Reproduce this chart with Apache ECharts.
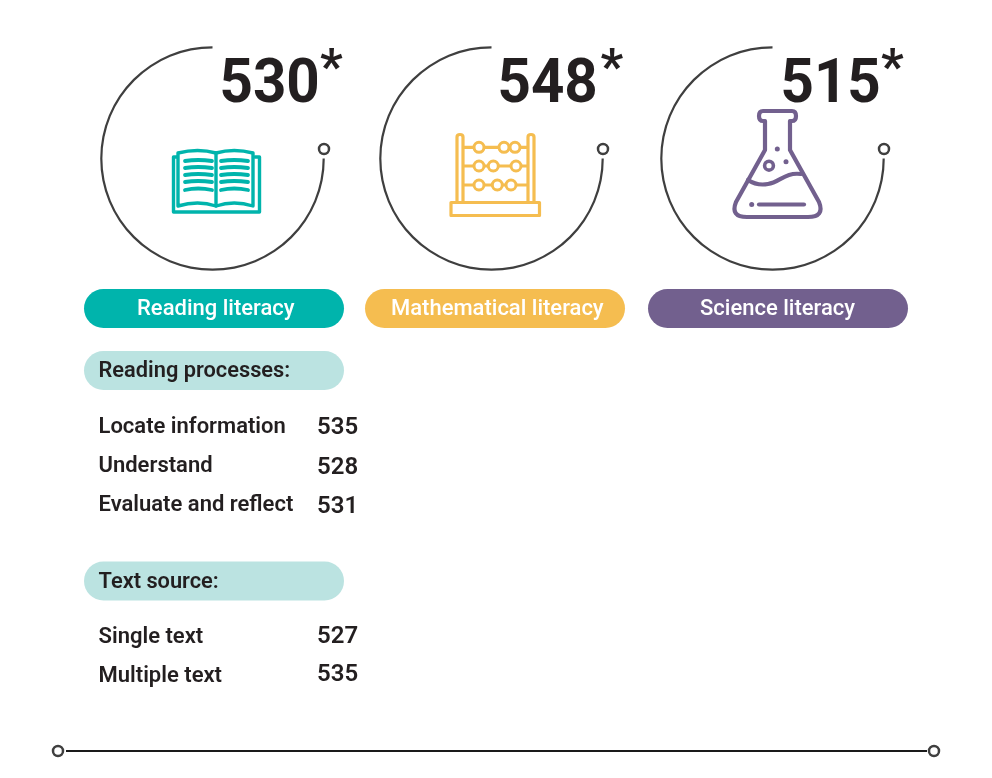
<!DOCTYPE html>
<html><head><meta charset="utf-8">
<style>html,body{margin:0;padding:0;background:#fff}#c{width:992px;height:778px}</style>
<script src="https://cdn.jsdelivr.net/npm/echarts@6/dist/echarts.min.js"></script>
</head><body><div id="c"></div>
<script>
const domains = ['Reading literacy','Mathematical literacy','Science literacy'];
const domainScores = [530,548,515];
const domainMarks = ['*','*','*'];
const processLabels = ['Locate information','Understand','Evaluate and reflect'];
const processScores = [535,528,531];
const sourceLabels = ['Single text','Multiple text'];
const sourceScores = [527,535];
const sectionTitles = ['Reading processes:','Text source:'];

const FONT = 'Roboto, sans-serif';
const INK = '#231f20', ARC = '#3f3f3f', TEAL = '#00b4ac', GOLD = '#f5bd50', PURPLE = '#72608e', PALE = '#bbe3e1';
const colors = [TEAL, GOLD, PURPLE];
const centers = [212.5, 491.5, 772.5];
const pillX = [84, 365, 648];
const pillTextX = [137, 391, 700];
const scoreX = [219.5, 497.5, 780.5];
const starX = [320, 600.5, 881];

function text(x, y, str, size, weight, fill, sx, align) {
  return {type:'text', x, y, scaleX:sx||1, style:{x:0, y:0, text:str, fill, textAlign:align||'left', textVerticalAlign:'middle',
    font:`${weight} ${size}px ${FONT}`}};
}
function stroke(pathData, color, w) {
  return {type:'path', shape:{pathData}, style:{stroke:color, lineWidth:w, fill:'none', lineCap:'round', lineJoin:'round'}};
}
function ring(cx, cy, r, color, w) {
  return {type:'circle', shape:{cx, cy, r}, style:{stroke:color, lineWidth:w, fill:'#fff'}};
}
function dot(cx, cy, r, color) {
  return {type:'circle', shape:{cx, cy, r}, style:{fill:color}};
}
function pill(x, y, color) {
  return {type:'rect', shape:{x, y, width:260, height:39, r:19.5}, style:{fill:color}};
}

const g = [];
domains.forEach((d,i)=>{
  g.push(ring(centers[i]+111.5, 149, 5, ARC, 2.5));
  g.push(text(scoreX[i], 86, String(domainScores[i]), 62, 700, INK, 0.94));
  g.push(text(starX[i], 71, domainMarks[i], 50, 700, INK));
  g.push(pill(pillX[i], 289, colors[i]));
  g.push(text(pillTextX[i], 309, d, 22, 500, '#fff'));
});

const icons = [];
[
 'M177 157H173.5V212H259.5V157H255',
 'M178 206V153Q198 148 216 153Q234 148 253 153V206Q234 200 216 206Q198 200 178 206Z',
 'M216 153V206'
].forEach(p=>icons.push(stroke(p, TEAL, 3.4)));
[
 'M185 161Q198 159 212 161','M185 168Q198 166 212 168','M185 175Q198 173 212 175','M185 182Q198 180 212 182','M185 190Q198 187 212 190',
 'M221 161Q234 159 248 161','M221 168Q234 166 248 168','M221 175Q234 173 248 175','M221 182Q234 180 248 182','M221 190Q234 187 248 190'
].forEach(p=>icons.push(stroke(p, TEAL, 3.8)));
[
 'M464 147.3H527','M464 166H527','M464 185H527',
 'M457 202V137Q457 134.5 460 134.5Q463 134.5 463 137V202',
 'M528 202V137Q528 134.5 531 134.5Q534 134.5 534 137V202',
 'M451 202.5H539.5V215.5H451Z'
].forEach(p=>icons.push(stroke(p, GOLD, 3.2)));
[[479,147.3],[504,147.3],[515,147.3],[479,166],[493.3,166],[516,166],[479,185],[497.3,185],[511,185]]
 .forEach(b=>icons.push(ring(b[0], b[1], 5, GOLD, 3)));
[
 'M765 121V150L736 202Q730 217 747 217H808Q825 217 819 202L790 150V121',
 'M764 121H763Q759 121 759 116Q759 111 763 111H792Q796 111 796 116Q796 121 792 121H791',
 'M748 180Q757 186 768 184C780 182 785 172 801 174',
 'M759 204.5H804'
].forEach(p=>icons.push(stroke(p, PURPLE, 4.2)));
icons.push(ring(769, 165.7, 4.4, PURPLE, 3.6));
[[777.3,149],[786,161.7],[751.7,204.5]].forEach(d=>icons.push(dot(d[0], d[1], 2.5, PURPLE)));

g.push(pill(84, 351, PALE));
g.push(text(98.5, 372, sectionTitles[0], 21.8, 600, INK));
const processY = [427,466,505], processScoreY = [428,468,507];
processLabels.forEach((l,i)=>{
  g.push(text(98.5, processY[i], l, 22, 600, INK));
  g.push(text(317, processScoreY[i], String(processScores[i]), 24, 600, INK));
});
g.push(pill(84, 561.5, PALE));
g.push(text(98.5, 583, sectionTitles[1], 21.8, 600, INK));
const sourceY = [637,676], sourceScoreY = [637,675];
sourceLabels.forEach((l,i)=>{
  g.push(text(98.5, sourceY[i], l, 22, 600, INK));
  g.push(text(317, sourceScoreY[i], String(sourceScores[i]), 24, 600, INK));
});

g.push({type:'line', shape:{x1:66, y1:751, x2:927, y2:751}, style:{stroke:'#1a1a1a', lineWidth:2}});
g.push(ring(58, 751, 5, ARC, 2.5));
g.push(ring(934, 751, 5, ARC, 2.5));

const series = domains.map((d,i)=>({
  type:'gauge', center:[centers[i],158.5], radius:112.3, startAngle:360, endAngle:90, min:0, max:1000,
  axisLine:{lineStyle:{width:2.2, color:[[1,ARC]]}},
  axisTick:{show:false}, splitLine:{show:false}, axisLabel:{show:false},
  pointer:{show:false}, anchor:{show:false}, progress:{show:false}, title:{show:false}, detail:{show:false},
  silent:true, animation:false,
  data:[{name:d, value:domainScores[i]}]
}));
series.push({type:'custom', coordinateSystem:'none', silent:true, animation:false, data:[[0]],
  renderItem:()=>({type:'group', children:icons})});

const chart = echarts.init(document.getElementById('c'), null, {renderer:'canvas'});
chart.setOption({backgroundColor:'#fff', animation:false, series, graphic:{elements:g}});
</script></body></html>
